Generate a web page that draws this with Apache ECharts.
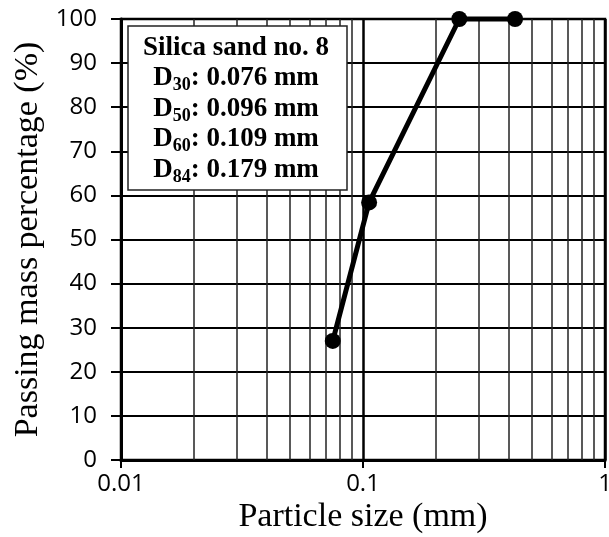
<!DOCTYPE html>
<html>
<head>
<meta charset="utf-8">
<style>
  html, body { margin: 0; padding: 0; background: #fff; }
  #chart { width: 609px; height: 537px; }
</style>
<script src="https://cdn.jsdelivr.net/npm/echarts@6/dist/echarts.min.js"></script>
</head>
<body>
<div id="chart"></div>
<script>
// Grain-size distribution of the sand sample
const particleSize = [0.075, 0.106, 0.25, 0.425];   // mm
const passingPercent = [27, 58.4, 100, 100];        // %

// Minor grid lines on the logarithmic size axis
const minorSizes = [0.02, 0.03, 0.04, 0.05, 0.06, 0.07, 0.08, 0.09,
                    0.2, 0.3, 0.4, 0.5, 0.6, 0.7, 0.8, 0.9];

// Info box contents
const boxTitle = 'Silica sand no. 8';
const boxKeys = ['30', '50', '60', '84'];
const boxValues = ['0.076', '0.096', '0.109', '0.179'];

const serif = '"Liberation Serif", "Times New Roman", serif';
const sans = '"Open Sans", "Liberation Sans", sans-serif';

const boxLines = [boxTitle].concat(
  boxKeys.map((k, i) => '{m|D}{s|' + k + '}{m|: ' + boxValues[i] + ' mm}')
);

const chart = echarts.init(document.getElementById('chart'));
chart.setOption({
  animation: false,
  backgroundColor: '#fff',
  grid: {
    left: 121, right: 4, top: 19, bottom: 77,
    outerBoundsMode: 'none',
    containLabel: false,
    show: true, borderColor: '#000', borderWidth: 2.5
  },
  xAxis: {
    type: 'log', logBase: 10, min: 0.01, max: 1,
    name: 'Particle size (mm)',
    nameLocation: 'middle', nameGap: 40,
    nameMoveOverlap: false,
    nameTextStyle: { fontFamily: serif, fontSize: 34, color: '#000' },
    axisLine: { show: true, lineStyle: { color: '#000', width: 3 } },
    axisTick: { show: true, inside: false, length: 8, lineStyle: { color: '#000', width: 2 } },
    axisLabel: { fontFamily: sans, fontSize: 24, color: '#000', margin: 12 },
    splitLine: { show: true, lineStyle: { color: '#000', width: 2.5 } },
    minorTick: { show: false },
    minorSplitLine: { show: false }
  },
  yAxis: {
    type: 'value', min: 0, max: 100, interval: 10,
    name: 'Passing mass percentage (%)',
    nameLocation: 'middle', nameGap: 76, nameRotate: 90,
    nameMoveOverlap: false,
    nameTextStyle: { fontFamily: serif, fontSize: 34, color: '#000' },
    axisLine: { show: true, lineStyle: { color: '#000', width: 3 } },
    axisTick: { show: true, inside: false, length: 10, lineStyle: { color: '#000', width: 2 } },
    axisLabel: { fontFamily: sans, fontSize: 24, color: '#000', margin: 24 },
    splitLine: { show: true, lineStyle: { color: '#000', width: 2 } }
  },
  series: [{
    type: 'line',
    data: particleSize.map((x, i) => [x, passingPercent[i]]),
    clip: false,
    symbol: 'circle',
    symbolSize: 16,
    itemStyle: { color: '#000' },
    lineStyle: { color: '#000', width: 5 },
    z: 5,
    markLine: {
      silent: true,
      symbol: 'none',
      label: { show: false },
      lineStyle: { color: '#222', width: 1.5, type: 'solid' },
      data: minorSizes.map(v => ({ xAxis: v }))
    }
  }],
  graphic: [{
    type: 'rect',
    x: 128, y: 26,
    z: 100,
    shape: { x: 0, y: 0, width: 219, height: 164 },
    style: { fill: '#fff', stroke: '#222', lineWidth: 1.5 }
  }, {
    type: 'text',
    x: 236, y: 109,
    z: 101,
    style: {
      text: boxLines.join('\n'),
      font: 'bold 27px ' + serif,
      fill: '#000',
      align: 'center',
      verticalAlign: 'middle',
      lineHeight: 30.5,
      rich: {
        m: { fontFamily: serif, fontWeight: 'bold', fontSize: 27, lineHeight: 30.5, fill: '#000' },
        s: { fontFamily: serif, fontWeight: 'bold', fontSize: 18, lineHeight: 30.5, fill: '#000', padding: [14, 0, 0, 0] }
      }
    }
  }]
});
</script>
</body>
</html>
